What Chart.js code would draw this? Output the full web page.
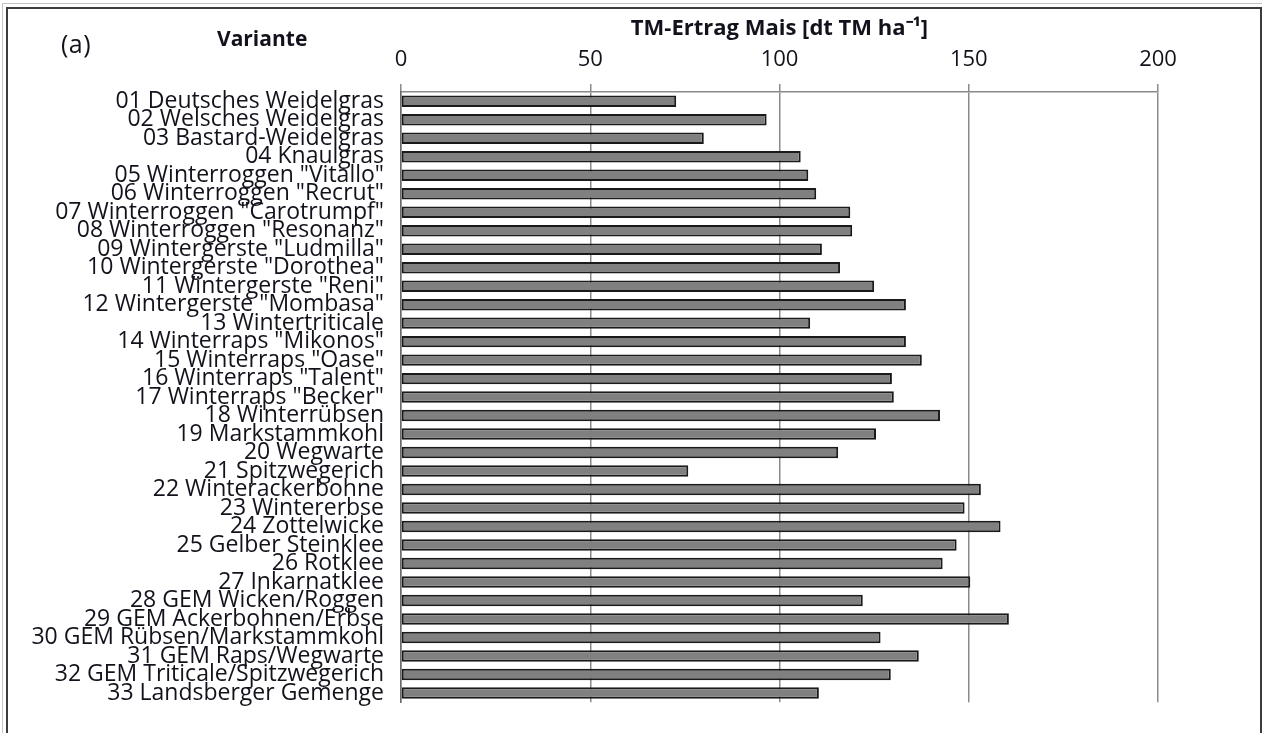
<!DOCTYPE html>
<html>
<head>
<meta charset="utf-8">
<script src="https://cdn.jsdelivr.net/npm/chart.js@4.4.1/dist/chart.umd.min.js"></script>
<style>
  html, body { margin: 0; padding: 0; background: #fff; overflow: hidden; }
  #wrap { position: relative; width: 1262px; height: 733px; }
  #outer { position: absolute; left: 2px; top: 3px; width: 1270px; height: 800px; border: 1px solid #c4c4c4; }
  #inner { position: absolute; left: 6px; top: 7px; width: 1252px; height: 800px; border: 2px solid #3c3c3c; }
  #c { position: absolute; left: 0; top: 0; }
  .lbl { position: absolute; font-family: "Open Sans", sans-serif; color: #12121c; white-space: nowrap; }
</style>
</head>
<body>
<div id="wrap">
  <div id="outer"></div>
  <div id="inner"></div>
  <canvas id="c" width="1262" height="733"></canvas>
  <div class="lbl" style="left:61px; top:27px; font-size:25px; line-height:32px; letter-spacing:0.5px;">(a)</div>
  <div class="lbl" style="left:217px; top:25px; font-size:21px; line-height:26px; font-weight:bold;">Variante</div>
</div>
<script>
const categories = [
  '01 Deutsches Weidelgras',
  '02 Welsches Weidelgras',
  '03 Bastard-Weidelgras',
  '04 Knaulgras',
  '05 Winterroggen "Vitallo"',
  '06 Winterroggen "Recrut"',
  '07 Winterroggen "Carotrumpf"',
  '08 Winterroggen "Resonanz"',
  '09 Wintergerste "Ludmilla"',
  '10 Wintergerste "Dorothea"',
  '11 Wintergerste "Reni"',
  '12 Wintergerste "Mombasa"',
  '13 Wintertriticale',
  '14 Winterraps "Mikonos"',
  '15 Winterraps "Oase"',
  '16 Winterraps "Talent"',
  '17 Winterraps "Becker"',
  '18 Winterrübsen',
  '19 Markstammkohl',
  '20 Wegwarte',
  '21 Spitzwegerich',
  '22 Winterackerbohne',
  '23 Wintererbse',
  '24 Zottelwicke',
  '25 Gelber Steinklee',
  '26 Rotklee',
  '27 Inkarnatklee',
  '28 GEM Wicken/Roggen',
  '29 GEM Ackerbohnen/Erbse',
  '30 GEM Rübsen/Markstammkohl',
  '31 GEM Raps/Wegwarte',
  '32 GEM Triticale/Spitzwegerich',
  '33 Landsberger Gemenge'
];
const yieldValues = [
  72.7, 96.6, 80.0, 105.6, 107.6, 109.7, 118.7, 119.2, 111.2, 116.0,
  125.0, 133.4, 108.1, 133.4, 137.6, 129.7, 130.2, 142.4, 125.5, 115.5,
  75.9, 153.2, 148.9, 158.4, 146.8, 143.1, 150.4, 122.0, 160.6, 126.7,
  136.8, 129.4, 110.4
];
const xTicks = [0, 50, 100, 150, 200];
const axisTitle = 'TM-Ertrag Mais [dt TM ha\u207B\u00B9]';

const FONT = '"Open Sans", sans-serif';

new Chart(document.getElementById('c'), {
  type: 'bar',
  data: {
    labels: categories,
    datasets: [{
      data: yieldValues,
      backgroundColor: '#808080',
      borderColor: '#1a1a1a',
      borderWidth: 2,
      borderSkipped: false,
      barPercentage: 0.62,
      categoryPercentage: 1.0
    }]
  },
  options: {
    indexAxis: 'y',
    responsive: false,
    animation: false,
    devicePixelRatio: 1,
    layout: { padding: { left: 10, right: 104, top: 0, bottom: 26 } },
    plugins: { legend: { display: false }, tooltip: { enabled: false } },
    scales: {
      x: {
        position: 'top',
        min: xTicks[0],
        max: xTicks[xTicks.length - 1],
        afterBuildTicks: (scale) => { scale.ticks = xTicks.map(v => ({ value: v })); },
        ticks: { font: { family: FONT, size: 22 }, color: '#12121c', padding: 11 },
        grid: { color: '#8a8a8a', lineWidth: 1.5, tickLength: 8, drawTicks: true },
        border: { display: true, color: '#8a8a8a', width: 1.5 },
        title: {
          display: true, text: axisTitle,
          font: { family: FONT, size: 22, weight: 'bold' }, color: '#12121c',
          padding: { top: 16, bottom: 0 }
        },
        afterFit: (scale) => { scale.height = 92; }
      },
      y: {
        ticks: { font: { family: FONT, size: 23 }, color: '#12121c', padding: 17, autoSkip: false },
        grid: { display: false, drawTicks: false, tickLength: 0 },
        border: { display: true, color: '#6a6a6a', width: 1.5 },
        afterFit: (scale) => { scale.width = 391; }
      }
    }
  }
});
</script>
</body>
</html>
